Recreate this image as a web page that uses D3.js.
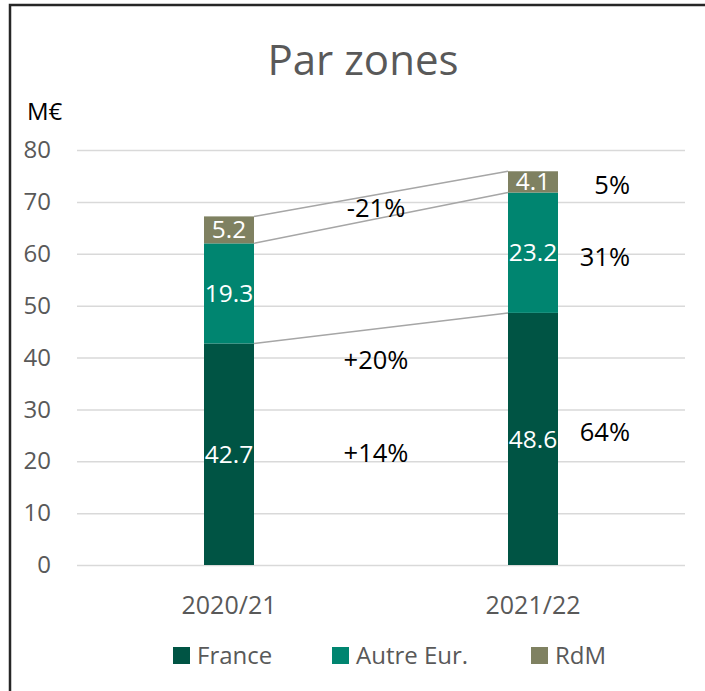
<!DOCTYPE html>
<html><head><meta charset="utf-8">
<script src="https://cdn.jsdelivr.net/npm/d3@7"></script>
<style>html,body{margin:0;padding:0;background:#fff;}svg{display:block;font-family:"Open Sans",sans-serif;}</style>
</head><body>
<svg id="c" width="705" height="691"></svg>
<script>
const categories = ["2020/21", "2021/22"];
const seriesNames = ["France", "Autre Eur.", "RdM"];
const france = [42.7, 48.6];
const autreEur = [19.3, 23.2];
const rdm = [5.2, 4.1];
const yTicks = [0, 10, 20, 30, 40, 50, 60, 70, 80];
const changeLabels = ["+14%", "+20%", "-21%"];
const changeLabelAt = [21.6, 39.5, 68.8];
const shareLabels = ["64%", "31%", "5%"];
const shareLabelAt = [25.6, 59.4, 73.3];
const colors = ["#005444", "#008570", "#7F8161"];

(function () {
const svg = d3.select("#c");
svg.append("rect").attr("x", 10).attr("y", 5).attr("width", 720).attr("height", 720)
  .attr("fill", "#fff").attr("stroke", "#262626").attr("stroke-width", 2.5);

const pLeft = 77, pRight = 685, pTop = 150, pBottom = 565;
const y = d3.scaleLinear().domain([0, 80]).range([pBottom, pTop]);
const x = d3.scaleBand().domain(categories).range([pLeft, pRight]);
const barW = 50;
const cx = c => x(c) + x.bandwidth() / 2;

svg.append("text").attr("x", 363).attr("y", 75).attr("text-anchor", "middle")
  .attr("font-size", 42).attr("fill", "#595959").text("Par zones");
svg.append("text").attr("x", 27).attr("y", 120).attr("font-size", 24).attr("fill", "#000").text("M€");

// grid
const yAxis = d3.axisLeft(y).tickValues(yTicks).tickSize(-(pRight - pLeft)).tickPadding(26);
const ga = svg.append("g").attr("transform", `translate(${pLeft},0)`).call(yAxis);
ga.select(".domain").remove();
ga.selectAll(".tick line").attr("stroke", "#D9D9D9").attr("stroke-width", 1.5);
ga.selectAll(".tick text").attr("fill", "#595959").attr("font-size", 24)
  .attr("font-family", "Open Sans, sans-serif");

// stacks
const rows = categories.map((c, i) => ({cat: c, France: france[i], "Autre Eur.": autreEur[i], RdM: rdm[i]}));
const stack = d3.stack().keys(seriesNames)(rows);

// connector lines
const xL = cx(categories[0]) + barW / 2, xR = cx(categories[1]) - barW / 2;
stack.forEach(s => {
  svg.append("line").attr("x1", xL).attr("x2", xR)
    .attr("y1", y(s[0][1])).attr("y2", y(s[1][1]))
    .attr("stroke", "#A6A6A6").attr("stroke-width", 1.5);
});

stack.forEach((s, k) => {
  const g = svg.append("g");
  g.selectAll("rect").data(s).join("rect")
    .attr("x", d => cx(d.data.cat) - barW / 2).attr("width", barW)
    .attr("y", d => y(d[1])).attr("height", d => y(d[0]) - y(d[1]))
    .attr("fill", colors[k]);
  g.selectAll("text").data(s).join("text")
    .attr("x", d => cx(d.data.cat)).attr("y", d => y((d[0] + d[1]) / 2))
    .attr("dy", "0.35em").attr("text-anchor", "middle")
    .attr("font-size", 24.5).attr("fill", "#fff")
    .text(d => (d[1] - d[0]).toFixed(1));
});

// x labels
svg.selectAll(".xl").data(categories).join("text")
  .attr("x", d => cx(d)).attr("y", 605).attr("dy", "0.35em").attr("text-anchor", "middle")
  .attr("font-size", 25).attr("fill", "#595959").text(d => d);

// change labels
const midX = (cx(categories[0]) + cx(categories[1])) / 2;
changeLabels.forEach((t, i) => {
  svg.append("text").attr("x", midX - 5).attr("y", y(changeLabelAt[i])).attr("dy", "0.35em")
    .attr("text-anchor", "middle").attr("font-size", 25.5).attr("fill", "#000").text(t);
});
shareLabels.forEach((t, i) => {
  svg.append("text").attr("x", 630).attr("y", y(shareLabelAt[i])).attr("dy", "0.35em")
    .attr("text-anchor", "end").attr("font-size", 25.5).attr("fill", "#000").text(t);
});

// legend
const legX = [173, 332, 531];
seriesNames.forEach((n, i) => {
  svg.append("rect").attr("x", legX[i]).attr("y", 647).attr("width", 17).attr("height", 17).attr("fill", colors[i]);
  svg.append("text").attr("x", legX[i] + 24).attr("y", 656).attr("dy", "0.35em")
    .attr("font-size", 24).attr("fill", "#595959").text(n);
});
})();
</script>
</body></html>
